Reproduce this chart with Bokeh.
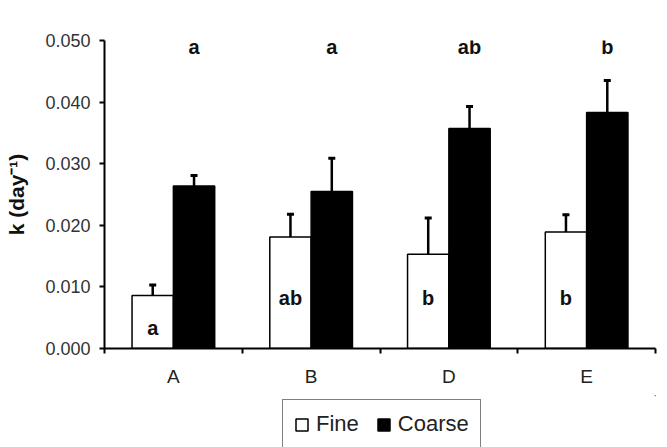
from bokeh.plotting import figure
from bokeh.layouts import column
from bokeh.models import (ColumnDataSource, FixedTicker, Legend, LegendItem, Whisker,
                          TeeHead, Range1d, NumeralTickFormatter)
from bokeh.core.properties import value
from bokeh.embed import file_html
from bokeh.resources import INLINE

# ---- data ----
categories = ["A", "B", "D", "E"]
fine = [0.0086, 0.0181, 0.0153, 0.0189]
fine_err = [0.0017, 0.0037, 0.0059, 0.0028]
coarse = [0.0264, 0.0255, 0.0357, 0.0383]
coarse_err = [0.0017, 0.0054, 0.0036, 0.0052]
top_letters = ["a", "a", "ab", "b"]
fine_letters = ["a", "ab", "b", "b"]
series_names = ["Fine", "Coarse"]
y_ticks = [0.0, 0.01, 0.02, 0.03, 0.04, 0.05]

FONT = "Liberation Sans"
n = len(categories)
bar_w = 0.3
centers = [i + 0.5 for i in range(n)]
x_fine = [c - bar_w / 2 for c in centers]
x_coarse = [c + bar_w / 2 for c in centers]

src_f = ColumnDataSource(dict(x=x_fine, top=fine, up=[v + e for v, e in zip(fine, fine_err)],
                              lab=fine_letters,
                              ly=[0.0034 if v < 0.012 else 0.0082 for v in fine]))
src_c = ColumnDataSource(dict(x=x_coarse, top=coarse, up=[v + e for v, e in zip(coarse, coarse_err)],
                              lab=top_letters, ly=[0.049] * n))

p = figure(width=667, height=395, output_backend="svg", toolbar_location=None,
           x_range=Range1d(0, n), y_range=Range1d(0, 0.05),
           min_border_left=104, min_border_right=12, min_border_top=40, min_border_bottom=47)
p.outline_line_color = None
p.xgrid.visible = False
p.ygrid.visible = False
p.background_fill_color = "white"
p.border_fill_color = "white"

# error bars (upward only)
for src in (src_f, src_c):
    w = Whisker(source=src, base="x", upper="up", lower="top", dimension="height",
                line_color="black", line_width=2.5,
                upper_head=TeeHead(size=7, line_width=3, line_color="black"), lower_head=None)
    p.add_layout(w)

rf = p.vbar(x="x", top="top", width=bar_w, source=src_f, fill_color="white",
            line_color="black", line_width=1.5)
rc = p.vbar(x="x", top="top", width=bar_w, source=src_c, fill_color="black",
            line_color="black", line_width=1.5)

p.text(x="x", y="ly", text="lab", source=src_f, text_align="center", text_baseline="alphabetic",
       text_font=value(FONT), text_font_style="bold", text_font_size="20px", text_color="#111111")
p.text(x="x", y="ly", text="lab", source=src_c, text_align="center", text_baseline="alphabetic",
       text_font=value(FONT), text_font_style="bold", text_font_size="20px", text_color="#111111")

# x axis: labels at centers, tick marks at boundaries
xa = p.xaxis[0]
xa.ticker = FixedTicker(ticks=centers, minor_ticks=list(range(n + 1)))
xa.major_label_overrides = {c: cat for c, cat in zip(centers, categories)}
xa.major_tick_line_color = None
xa.minor_tick_line_color = "black"
xa.minor_tick_line_width = 2
xa.minor_tick_out = 5
xa.minor_tick_in = 0
xa.axis_line_width = 2
xa.axis_line_color = "black"
xa.major_label_text_font = FONT
xa.major_label_text_font_size = "19px"
xa.major_label_text_color = "#222222"
xa.major_label_standoff = 11

ya = p.yaxis[0]
ya.ticker = FixedTicker(ticks=y_ticks)
ya.formatter = NumeralTickFormatter(format="0.000")
ya.axis_line_width = 2
ya.axis_line_color = "black"
ya.major_tick_line_width = 2
ya.major_tick_out = 5
ya.major_tick_in = 0
ya.minor_tick_line_color = None
ya.major_label_text_font = FONT
ya.major_label_text_font_size = "18px"
ya.major_label_text_color = "#333333"
ya.major_label_standoff = 9
ya.axis_label = "k (day\u207b\u00b9)"
ya.axis_label_text_font = FONT
ya.axis_label_text_font_style = "bold"
ya.axis_label_text_font_size = "21px"
ya.axis_label_text_color = "#111111"
ya.axis_label_standoff = 14

# legend strip below the chart (proxy renderers lie outside the visible range)
p2 = figure(width=667, height=52, output_backend="svg", toolbar_location=None,
            x_range=Range1d(0, 1), y_range=Range1d(0, 1),
            x_axis_location=None, y_axis_location=None,
            min_border_left=0, min_border_right=0, min_border_top=0, min_border_bottom=0)
p2.outline_line_color = None
p2.xgrid.visible = False
p2.ygrid.visible = False
p2.border_fill_color = "white"
lf = p2.vbar(x=[10], top=[10], bottom=[9], width=0.1, fill_color="white",
             line_color="black", line_width=1.5)
lc = p2.vbar(x=[10], top=[10], bottom=[9], width=0.1, fill_color="black",
             line_color="black", line_width=1.5)

legend = Legend(items=[LegendItem(label=series_names[0], renderers=[lf]),
                       LegendItem(label=series_names[1], renderers=[lc])],
                orientation="horizontal", location=(178, -2),
                label_text_font=FONT, label_text_font_size="22px", label_text_color="#222222",
                glyph_width=15, glyph_height=15, label_standoff=7, spacing=17,
                padding=11, margin=0,
                border_line_color="black", border_line_width=1.5,
                background_fill_color="white", background_fill_alpha=1)
p2.add_layout(legend, "center")

open("out.html", "w").write(file_html(column(p, p2, spacing=0), INLINE))
